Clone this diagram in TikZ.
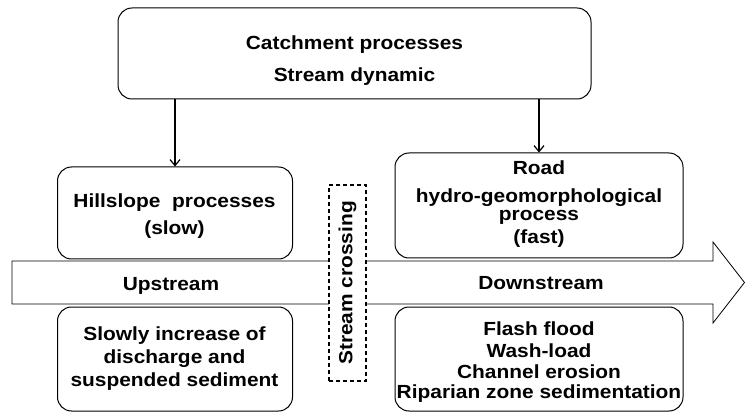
\documentclass[tikz,border=0pt]{standalone}
\usepackage{fontspec}
\setmainfont{Liberation Sans}[FakeStretch=1.1]
\usetikzlibrary{arrows.meta}
\begin{document}
\begin{tikzpicture}[x=1pt,y=1pt,
  box/.style={draw, line width=1pt, rounded corners=14pt, fill=white, inner sep=0pt},
  lbl/.style={font=\fontsize{19}{22}\selectfont\bfseries, anchor=base, inner sep=0pt},
  conn/.style={-{Straight Barb[length=6pt,width=10pt]}, line width=1.2pt},
  flow/.style={draw, line width=0.8pt, fill=white},
  crossbox/.style={draw, line width=1.1pt, dash pattern=on 4pt off 3pt, fill=white, inner sep=0pt}]
\useasboundingbox (0,0) rectangle (745,413);

% big flow arrow
\draw[flow] (12,109) -- (713,109) -- (713,90) -- (744.5,130.5) -- (713,171) -- (713,152) -- (12,152) -- cycle;

% boxes
\node[box, minimum width=473pt, minimum height=91pt] (top) at (354.5,359.5) {};
\node[box, minimum width=235pt, minimum height=92pt] (hill) at (175,200) {};
\node[box, minimum width=235pt, minimum height=104pt] (slowb) at (175,54) {};
\node[box, minimum width=288pt, minimum height=105pt] (road) at (539,207.5) {};
\node[box, minimum width=288pt, minimum height=104pt] (fastb) at (539,54) {};
\node[crossbox, minimum width=37pt, minimum height=196pt] (cross) at (347.5,130) {};

% connectors
\draw[conn] (hill.north |- top.south) -- (hill.north);
\draw[conn] (road.north |- top.south) -- (road.north);

% texts
\node[lbl] (t1) at (354.5,363) {Catchment processes};
\node[lbl] (t2) at (354.5,331) {Stream dynamic};

\node[lbl] (h1) at (174.5,205) {Hillslope\ \ processes};
\node[lbl] (h2) at (174.5,178) {(slow)};

\node[lbl] (s1) at (174.5,73) {Slowly increase of};
\node[lbl] (s2) at (174.5,50) {discharge and};
\node[lbl] (s3) at (174.5,27) {suspended sediment};

\node[lbl] (r1) at (539,238) {Road};
\node[lbl] (r2) at (539,210) {hydro-geomorphological};
\node[lbl] (r3) at (539,192) {process};
\node[lbl] (r4) at (539,169) {(fast)};

\node[lbl] (up) at (171,123) {Upstream};
\node[lbl] (down) at (541,124) {Downstream};

\node[lbl] (f1) at (539,78) {Flash flood};
\node[lbl] (f2) at (539,56) {Wash-load};
\node[lbl] (f3) at (539,35) {Channel erosion};
\node[lbl] (f4) at (539,15) {Riparian zone sedimentation};

\node[lbl, anchor=center, rotate=90] (ct) at (cross.center) {Stream crossing};
\end{tikzpicture}
\end{document}
